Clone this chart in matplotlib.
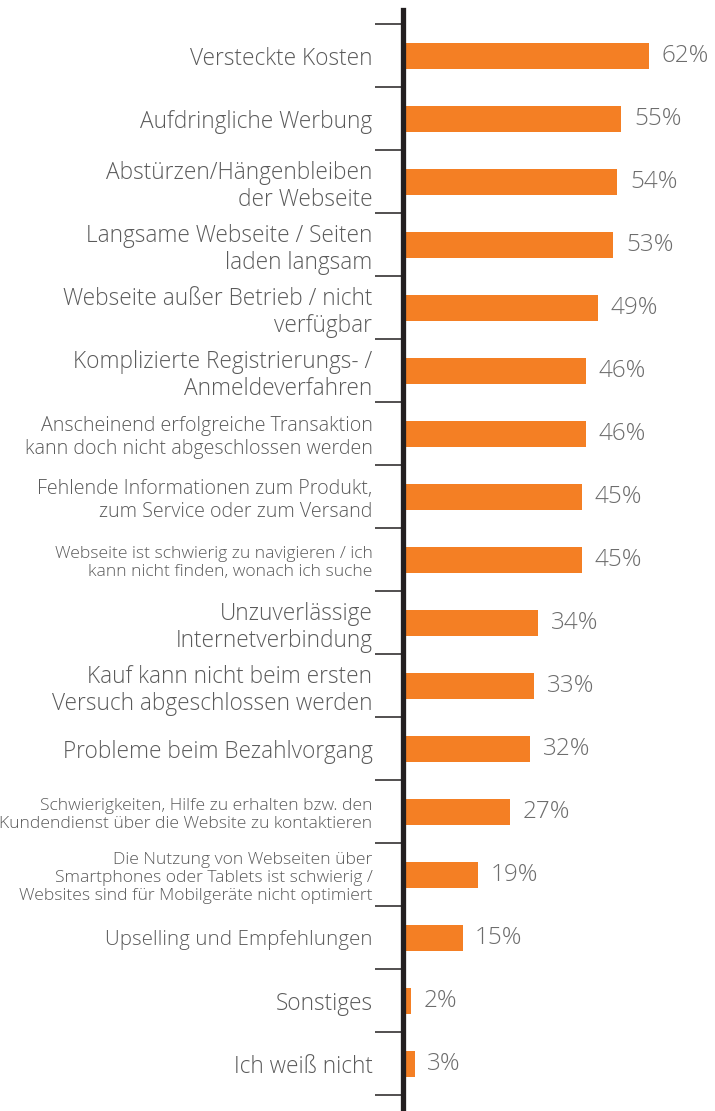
import matplotlib.pyplot as plt

plt.rcParams["font.family"] = ["Open Sans", "DejaVu Sans"]

labels = [
    "Versteckte Kosten",
    "Aufdringliche Werbung",
    "Abstürzen/Hängenbleiben\nder Webseite",
    "Langsame Webseite / Seiten\nladen langsam",
    "Webseite außer Betrieb / nicht\nverfügbar",
    "Komplizierte Registrierungs- /\nAnmeldeverfahren",
    "Anscheinend erfolgreiche Transaktion\nkann doch nicht abgeschlossen werden",
    "Fehlende Informationen zum Produkt,\nzum Service oder zum Versand",
    "Webseite ist schwierig zu navigieren / ich\nkann nicht finden, wonach ich suche",
    "Unzuverlässige\nInternetverbindung",
    "Kauf kann nicht beim ersten\nVersuch abgeschlossen werden",
    "Probleme beim Bezahlvorgang",
    "Schwierigkeiten, Hilfe zu erhalten bzw. den\nKundendienst über die Website zu kontaktieren",
    "Die Nutzung von Webseiten über\nSmartphones oder Tablets ist schwierig /\nWebsites sind für Mobilgeräte nicht optimiert",
    "Upselling und Empfehlungen",
    "Sonstiges",
    "Ich weiß nicht",
]
values = [62, 55, 54, 53, 49, 46, 46, 45, 45, 34, 33, 32, 27, 19, 15, 2, 3]

ORANGE = "#f47f24"
TEXT = "#5a5a5a"
DARK = "#231f20"


def label_size(text):
    if text.startswith("Upselling"):
        return 14.8
    longest = max(len(line) for line in text.split("\n"))
    if longest <= 31:
        return 16.3
    if longest <= 36:
        return 14.1
    return 12.6


fig = plt.figure(figsize=(7.15, 11.11), dpi=100)
W, H = 715, 1111
ax = fig.add_axes([403 / W, 0, (W - 403) / W, (1111 - 10) / H])

n = len(values)
pos = list(range(n))
ax.barh(pos, values, height=0.41, color=ORANGE, left=0)

ax.set_xlim(0, (W - 403) / 3.97)
ax.set_ylim(16.75, -0.73)

for spine in ["top", "right", "bottom"]:
    ax.spines[spine].set_visible(False)
ax.spines["left"].set_linewidth(3.8)
ax.spines["left"].set_color(DARK)
ax.set_xticks([])

ax.set_yticks(pos)
ax.set_yticklabels(labels)
ax.tick_params(axis="y", which="major", length=0, pad=22)
for tl, lab in zip(ax.get_yticklabels(), labels):
    tl.set_fontsize(label_size(lab))
    tl.set_color(TEXT)
    tl.set_fontweight("light")
    tl.set_multialignment("right")
    tl.set_linespacing(1.18)

ax.set_yticks([p - 0.5 for p in range(n + 1)], minor=True)
ax.tick_params(axis="y", which="minor", length=20, width=1.1, color=DARK)

for p, v in zip(pos, values):
    ax.annotate(f"{v}%", (v, p), xytext=(9, 0), textcoords="offset points",
                va="center", ha="left", fontsize=17.5, color="#6d6d6d",
                fontweight="light")

fig.savefig("out.png", dpi=100)
